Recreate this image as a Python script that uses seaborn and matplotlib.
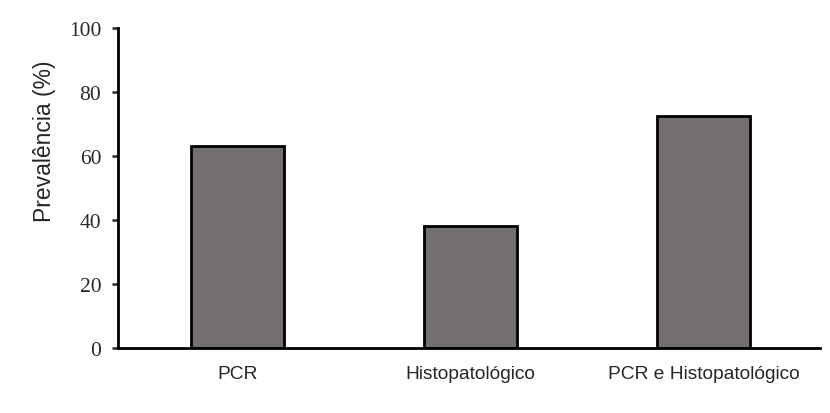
import pandas as pd
import matplotlib
matplotlib.use('Agg')
import matplotlib.pyplot as plt
import seaborn as sns

categorias = ['PCR', 'Histopatológico', 'PCR e Histopatológico']
prevalencia = [63.0, 38.2, 72.5]

df = pd.DataFrame({'metodo': categorias, 'prev': prevalencia})

sns.set_style('white')
plt.rcParams['font.family'] = ['Liberation Sans', 'DejaVu Sans']

fig = plt.figure(figsize=(8.3, 4.14), dpi=100)
ax = fig.add_axes([0.142, 0.157, 0.846, 0.773])

sns.barplot(data=df, x='metodo', y='prev', color='#736f6e', saturation=1,
            width=0.40, edgecolor='black', linewidth=2, ax=ax)

ax.set_ylim(0, 100)
ax.set_xlim(-0.515, 2.5)
ax.set_yticks([0, 20, 40, 60, 80, 100])
ax.set_ylabel('Prevalência (%)', fontsize=16.5)
ax.yaxis.set_label_coords(-0.088, 0.65)
ax.set_xlabel('')

for lab in ax.get_yticklabels():
    lab.set_family(['Liberation Serif', 'DejaVu Serif'])
    lab.set_fontsize(15.5)
    lab.set_color('#2a2a2a')
ax.tick_params(axis='y', left=True, length=4, width=1.8, direction='out', pad=8)
ax.tick_params(axis='x', bottom=False, labelsize=13.8, pad=9)

sns.despine(ax=ax, top=True, right=True)
ax.spines['left'].set_linewidth(2)
ax.spines['bottom'].set_linewidth(2)
ax.spines['left'].set_color('black')
ax.spines['bottom'].set_color('black')

fig.savefig('out.png', dpi=100)
